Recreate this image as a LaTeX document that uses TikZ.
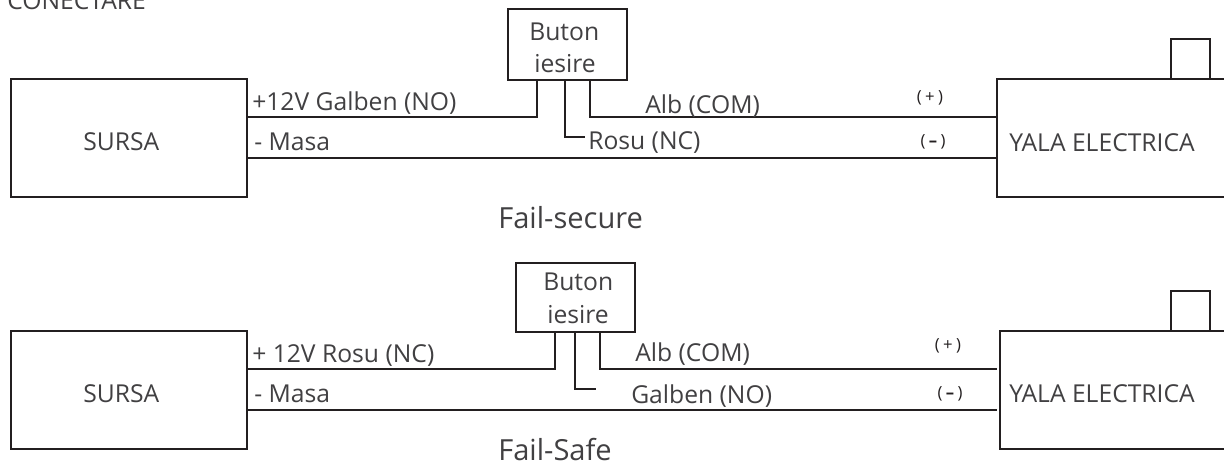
\documentclass[tikz,border=0pt]{standalone}
\usepackage{fontspec}
\setmainfont{Open Sans}
\definecolor{ink}{HTML}{231F20}
\definecolor{txt}{HTML}{414042}
\tikzset{
  x=0.75pt,y=-0.75pt,
  boxn/.style={draw=ink,line width=1.6pt,inner sep=0pt,anchor=north west,minimum width=#1},
  wire/.style={draw=ink,line width=1.4pt,line join=miter},
  lab/.style={anchor=base west,inner sep=0pt,text=txt,font=\fontsize{18.5}{18.5}\selectfont},
  pol/.style={anchor=base,inner sep=0pt,text=ink,font=\fontsize{12.5}{12.5}\selectfont},
  captext/.style={anchor=base west,inner sep=0pt,text=txt,font=\fontsize{21.8}{21.8}\selectfont},
}
\newcommand{\polp}{(\hspace{0.2em}+\hspace{0.2em})}
\newcommand{\polm}{(\hspace{0.2em}\textbf{–}\hspace{0.2em})}
\begin{document}
\begin{tikzpicture}
\useasboundingbox (0,0) rectangle (1224,468);
\node[lab] (title) at (7,9) {CONECTARE};
% top
\node[boxn=236.5*0.75pt,minimum height=88.5pt] (s1) at (9.5,78) {};
\node[lab] (s1t) at (83,150) {SURSA};
\node[boxn=240*0.75pt,minimum height=88.5pt] (y1) at (996,78) {};
\node[lab] (y1t) at (1009,151) {YALA ELECTRICA};
\node[boxn=38.5*0.75pt,minimum height=30pt] (q1) at (1170,38) {};
\node[boxn=119*0.75pt,minimum height=53pt] (b1) at (507,8) {};
\node[lab] (b1a) at (529,40) {Buton};
\node[lab] (b1b) at (534,72) {iesire};
\coordinate (a1) at (537,117);
\coordinate (a2) at (565,137);
\coordinate (a2e) at (585,137);
\coordinate (a3) at (590,117);
\coordinate (m1) at (300,158);
\draw[wire] (s1.east |- a1) -- (a1) -- (a1 |- b1.south);
\draw[wire] (a2 |- b1.south) -- (a2) -- (a2e);
\draw[wire] (a3 |- b1.south) -- (a3) -- (y1.west |- a3);
\draw[wire] (s1.east |- m1) -- (y1.west |- m1);
\node[lab] (l1) at (252,110) {+12V Galben (NO)};
\node[lab] (l2) at (254,150) {- Masa};
\node[lab] (l3) at (645,113) {Alb (COM)};
\node[lab] (l4) at (588,149) {Rosu (NC)};
\node[pol] (p1) at (930,102) {\polp};
\node[pol] (p2) at (933,146) {\polm};
\node[captext] (c1) at (498,228) {Fail-secure};
% bottom
\node[boxn=236.5*0.75pt,minimum height=88.5pt] (s2) at (9.5,330) {};
\node[lab] (s2t) at (83,402) {SURSA};
\node[boxn=240*0.75pt,minimum height=88.5pt] (y2) at (999,330) {};
\node[lab] (y2t) at (1009,402) {YALA ELECTRICA};
\node[boxn=38.5*0.75pt,minimum height=30pt] (q2) at (1170,290) {};
\node[boxn=119*0.75pt,minimum height=52pt] (b2) at (514.5,262) {};
\node[lab] (b2a) at (543,290) {Buton};
\node[lab] (b2b) at (547,323) {iesire};
\coordinate (d1) at (555,369);
\coordinate (d2) at (575,389);
\coordinate (d2e) at (596,389);
\coordinate (d3) at (600,369);
\coordinate (n1) at (300,410);
\coordinate (de) at (997,0);
\draw[wire] (s2.east |- d1) -- (d1) -- (d1 |- b2.south);
\draw[wire] (d2 |- b2.south) -- (d2) -- (d2e);
\draw[wire] (d3 |- b2.south) -- (d3) -- (de |- d3);
\draw[wire] (s2.east |- n1) -- (de |- n1);
\node[lab] (k1) at (252,362) {+ 12V Rosu (NC)};
\node[lab] (k2) at (254,402) {- Masa};
\node[lab] (k3) at (635,361) {Alb (COM)};
\node[lab] (k4) at (631,403) {Galben (NO)};
\node[pol] (r1) at (948,350) {\polp};
\node[pol] (r2) at (950,398) {\polm};
\node[captext] (c2) at (498,460) {Fail-Safe};
\end{tikzpicture}
\end{document}
